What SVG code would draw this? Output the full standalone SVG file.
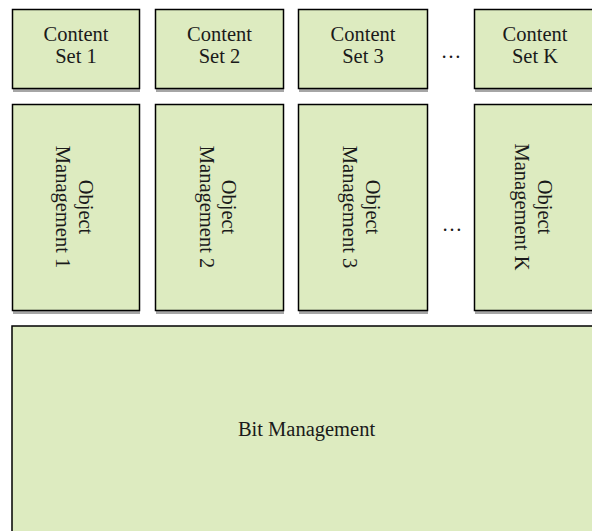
<svg xmlns="http://www.w3.org/2000/svg" width="592" height="531" viewBox="0 0 592 531">
<defs>
<style>
.box{fill:#DDEBC0;stroke:#000;stroke-width:1.5}
.sh{fill:#A6A6A6}
.t{font-family:"Liberation Serif","Times New Roman",serif;font-size:20.5px;fill:#1a1a1a;text-anchor:middle}
</style>
</defs>
<rect width="592" height="531" fill="#fff"/>
<g id="content-set-1">
<rect class="sh" x="13" y="88" width="127" height="4"/>
<rect class="box" x="12.5" y="9.5" width="127" height="79"/>
<text class="t" x="76" y="40.7">Content</text>
<text class="t" x="76" y="62.7">Set 1</text>
</g>
<g id="content-set-2">
<rect class="sh" x="156" y="88" width="128" height="4"/>
<rect class="box" x="155.5" y="9.5" width="128" height="79"/>
<text class="t" x="219.5" y="40.7">Content</text>
<text class="t" x="219.5" y="62.7">Set 2</text>
</g>
<g id="content-set-3">
<rect class="sh" x="299" y="88" width="129" height="4"/>
<rect class="box" x="298.5" y="9.5" width="129" height="79"/>
<text class="t" x="363" y="40.7">Content</text>
<text class="t" x="363" y="62.7">Set 3</text>
</g>
<text id="dots-1" class="t" x="451" y="58">…</text>
<g id="content-set-k">
<rect class="sh" x="475" y="88" width="130" height="4"/>
<rect class="box" x="474.5" y="9.5" width="130" height="79"/>
<text class="t" x="535" y="40.7">Content</text>
<text class="t" x="535" y="62.7">Set K</text>
</g>
<g id="object-management-1">
<rect class="sh" x="13" y="310" width="127" height="4"/>
<rect class="box" x="12.5" y="104.5" width="127" height="206"/>
<g transform="translate(76 207) rotate(90)">
<text class="t" x="0" y="-2.5">Object</text>
<text class="t" x="0" y="20">Management 1</text>
</g>
</g>
<g id="object-management-2">
<rect class="sh" x="156" y="310" width="128" height="4"/>
<rect class="box" x="155.5" y="104.5" width="128" height="206"/>
<g transform="translate(219.5 207) rotate(90)">
<text class="t" x="0" y="-2.5">Object</text>
<text class="t" x="0" y="20">Management 2</text>
</g>
</g>
<g id="object-management-3">
<rect class="sh" x="299" y="310" width="129" height="4"/>
<rect class="box" x="298.5" y="104.5" width="129" height="206"/>
<g transform="translate(363 207) rotate(90)">
<text class="t" x="0" y="-2.5">Object</text>
<text class="t" x="0" y="20">Management 3</text>
</g>
</g>
<text id="dots-2" class="t" x="452" y="231">…</text>
<g id="object-management-k">
<rect class="sh" x="475" y="310" width="130" height="4"/>
<rect class="box" x="474.5" y="104.5" width="130" height="206"/>
<g transform="translate(535 207) rotate(90)">
<text class="t" x="0" y="-2.5">Object</text>
<text class="t" x="0" y="20">Management K</text>
</g>
</g>
<g id="bit-management">
<rect class="box" x="12" y="326" width="590" height="215" stroke-width="2"/>
<text class="t" x="306.5" y="436">Bit Management</text>
</g>
<g id="connectors"/>
</svg>
